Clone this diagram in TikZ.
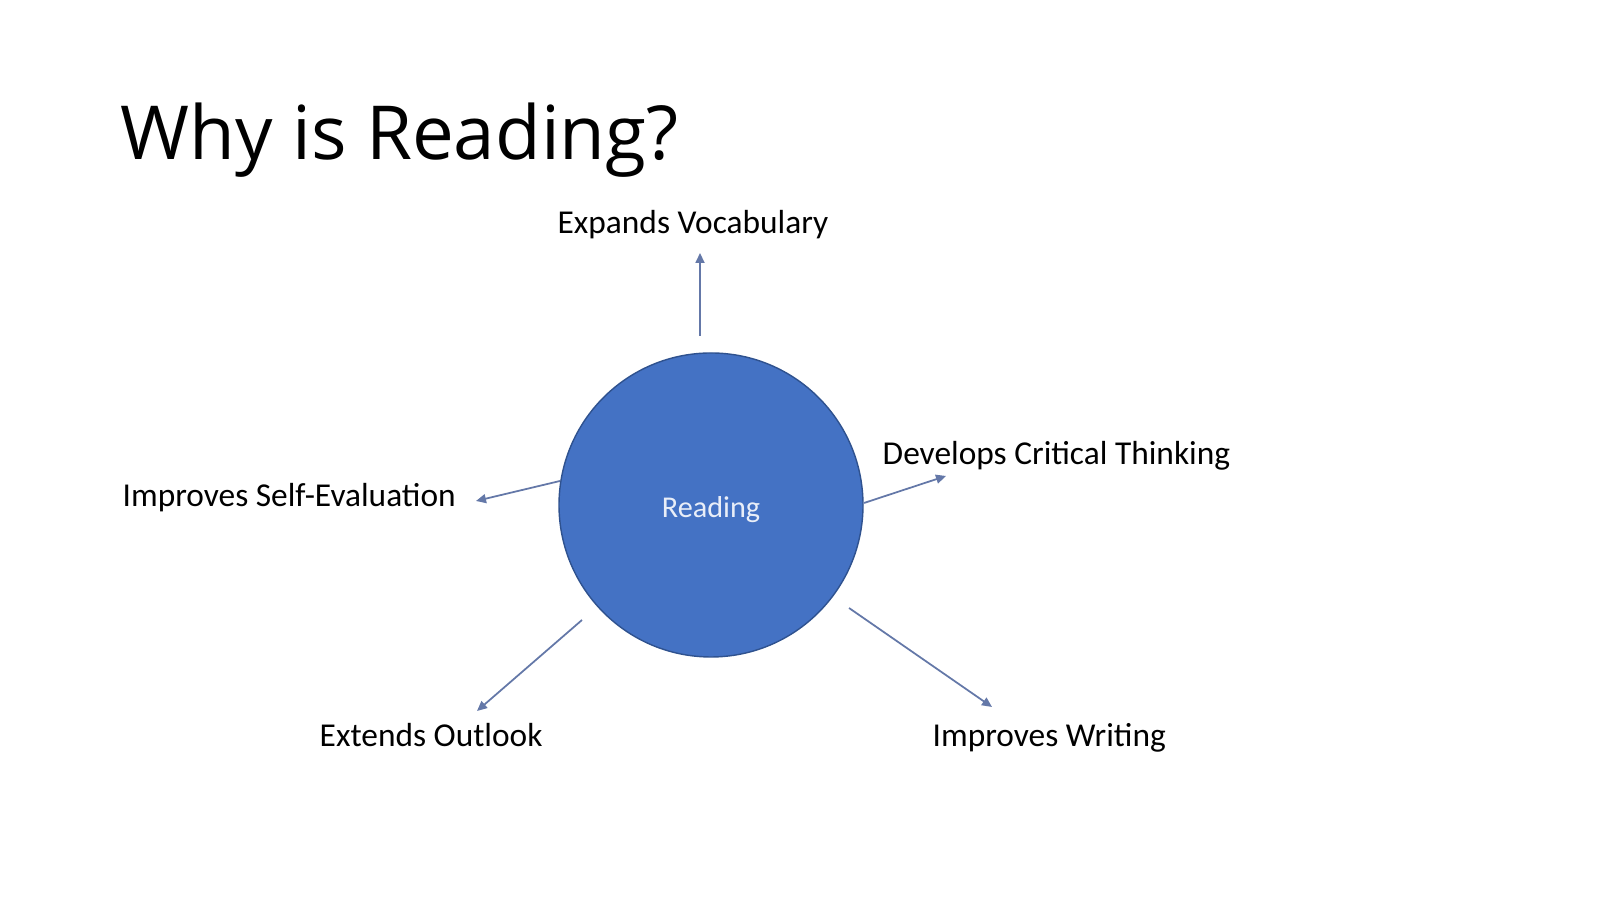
\documentclass[tikz,border=0pt]{standalone}
\usepackage{fontspec}
\setmainfont{Carlito}
\newfontfamily\titlefont{Open Sans}
\usetikzlibrary{arrows.meta}
\definecolor{readblue}{RGB}{68,114,196}
\definecolor{readedge}{RGB}{47,82,143}
\definecolor{arrowblue}{RGB}{100,120,168}
\begin{document}
\begin{tikzpicture}[
	lbl/.style={inner sep=0pt,font=\fontsize{9.5}{11}\selectfont},
	arr/.style={arrowblue,line width=0.5pt,-{Triangle[length=0.1cm,width=0.09cm]}}
	]
	\useasboundingbox (0,0) rectangle (16,8.99);
	
	\node[inner sep=0pt,anchor=base west,font=\titlefont\fontsize{21.2}{25}\selectfont] (title) at (1.20,7.39) {Why is Reading?};
	
	\node[circle,minimum size=3.04cm,fill=readblue,draw=readedge,line width=0.4pt,text=white!88!readblue,text height=0.31cm,text depth=0.06cm,font=\fontsize{8.6}{10}\selectfont] (rd) at (7.11,3.94) {Reading};
	
	\node[lbl,anchor=base] (voc) at (6.93,6.65) {Expands Vocabulary};
	\node[lbl,anchor=base west] (crit) at (8.82,4.34) {Develops Critical Thinking};
	\node[lbl,anchor=base west] (self) at (1.22,3.92) {Improves Self-Evaluation};
	\node[lbl,anchor=base west] (outl) at (3.19,1.52) {Extends Outlook};
	\node[lbl,anchor=base west] (writ) at (9.32,1.52) {Improves Writing};
	
	% arrow ends
	\coordinate (s1) at (7.00,5.63);  \coordinate (e1) at (7.00,6.46);
	\coordinate (s2) at (8.64,3.96);  \coordinate (e2) at (9.46,4.23);
	\coordinate (s3) at (5.60,4.18);  \coordinate (e3) at (4.76,3.98);
	\coordinate (s4) at (5.82,2.79);  \coordinate (e4) at (4.77,1.88);
	\coordinate (s5) at (8.49,2.91);  \coordinate (e5) at (9.92,1.92);
	
	\foreach \i in {1,2,3,4,5}
	\draw[arr] (s\i) -- (e\i);
\end{tikzpicture}
\end{document}
